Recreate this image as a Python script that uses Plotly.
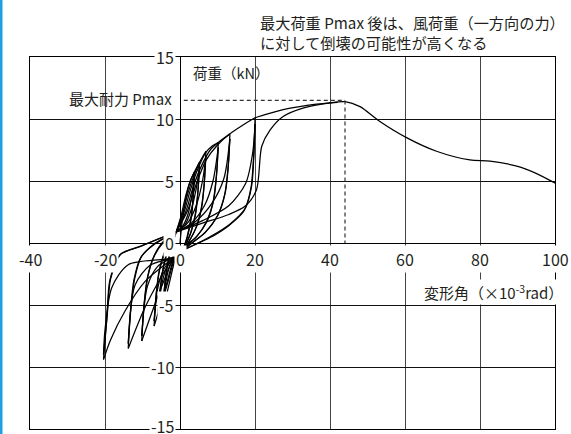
import plotly.graph_objects as go

FONT = "Noto Sans CJK JP, Noto Sans, sans-serif"
TXT = "#231f20"

X_TICKS = [-40, -20, 0, 20, 40, 60, 80, 100]
Y_TICKS = [-15, -10, -5, 0, 5, 10, 15]

# ---- hysteresis branches (x: 10^-3 rad, y: kN) ----
INITIAL_LOADING = [(0, 0), (0.6, 1.8), (1.5, 3.5), (2.6, 4.9), (3.8, 5.7)]

POS_LOAD_1 = [
    [(-1, 0.9), (0.3, 2.2), (1.6, 3.9), (2.9, 5.1), (3.8, 5.7), (5.2, 6.5)],
    [(-1, 0.9), (0.6, 2.3), (2.2, 4.1), (3.8, 5.5), (5.2, 6.5), (6.9, 7.4)],
    [(-1, 0.9), (1.0, 2.4), (2.8, 4.3), (4.8, 6.0), (6.9, 7.3), (8.5, 7.8), (10.2, 8.1)],
    [(-1, 0.9), (1.5, 2.5), (3.6, 4.6), (6.0, 6.4), (8.3, 7.6), (10.2, 8.1), (13.3, 8.8)],
    [(-1, 0.9), (2.0, 2.6), (4.5, 4.9), (7.0, 6.7), (10.0, 7.9), (13.3, 8.8), (16.7, 9.5), (20, 10.1)],
]
POS_UNLOAD_1 = [
    [(3.8, 5.7), (3.5, 3.6), (3.0, 2.0), (2.0, 0.5), (0.7, -0.6)],
    [(5.2, 6.5), (4.8, 4.2), (4.2, 2.4), (3.0, 0.9), (1.6, -0.1), (0.7, -0.6)],
    [(6.9, 7.4), (6.5, 4.9), (5.8, 2.9), (4.4, 1.3), (2.4, 0.1), (0.7, -0.6)],
    [(10.2, 8.1), (9.8, 5.7), (9.0, 3.5), (7.3, 1.8), (4.6, 0.6), (2.2, -0.1), (0.7, -0.6)],
    [(13.3, 8.8), (12.9, 6.3), (12.1, 4.1), (10.2, 2.3), (6.8, 0.9), (3.2, 0.0), (0.7, -0.6)],
    [(20, 10.1), (19.7, 7.1), (19.1, 4.6), (17.4, 2.8), (13.2, 1.5), (8.0, 0.5), (3.5, -0.2), (0.7, -0.6)],
]
POS_LOAD_2 = [
    [(-1, 0.9), (0.8, 1.4), (2.2, 2.4), (3.2, 3.9), (3.8, 5.3)],
    [(-1, 0.9), (1.4, 1.5), (3.1, 2.8), (4.4, 4.5), (5.2, 6.1)],
    [(-1, 0.9), (2.0, 1.6), (4.3, 3.0), (6.0, 5.0), (6.9, 7.0)],
    [(-1, 0.9), (3.0, 1.6), (6.5, 3.0), (8.8, 5.0), (10.2, 7.7)],
    [(-1, 0.9), (4.0, 1.7), (8.5, 3.2), (11.7, 5.2), (13.3, 8.4)],
    [(-1, 0.9), (6.0, 1.8), (13.0, 3.0), (17.5, 4.8), (19.4, 7.3), (20, 9.6)],
]
POS_UNLOAD_2 = [
    [(3.8, 5.3), (3.4, 3.3), (2.8, 1.8), (1.8, 0.4), (0.7, -0.6)],
    [(5.2, 6.1), (4.7, 3.9), (4.0, 2.2), (2.8, 0.8), (1.5, -0.1), (0.7, -0.6)],
    [(6.9, 7.0), (6.4, 4.6), (5.6, 2.7), (4.2, 1.2), (2.3, 0.1), (0.7, -0.6)],
    [(10.2, 7.7), (9.7, 5.4), (8.8, 3.3), (7.0, 1.7), (4.4, 0.5), (2.1, -0.1), (0.7, -0.6)],
    [(13.3, 8.4), (12.8, 6.0), (11.9, 3.9), (10.0, 2.2), (6.6, 0.8), (3.1, 0.0), (0.7, -0.6)],
    [(20, 9.6), (19.6, 6.8), (18.9, 4.4), (17.1, 2.6), (13.0, 1.4), (7.8, 0.4), (3.4, -0.2), (0.7, -0.6)],
]
NEG_LOAD_1 = [
    [(0.7, -0.6), (-1.2, -1.3), (-2.5, -2.8), (-3.6, -4.2), (-4.5, -5.4)],
    [(0.7, -0.6), (-1.4, -1.3), (-3.0, -2.9), (-4.5, -4.5), (-5.8, -5.9)],
    [(0.7, -0.6), (-1.6, -1.3), (-3.4, -3.1), (-5.2, -5.0), (-6.9, -6.7)],
    [(0.7, -0.6), (-1.8, -1.3), (-4.5, -3.2), (-7.5, -5.6), (-10.2, -7.9)],
    [(0.7, -0.6), (-2.0, -1.3), (-5.5, -3.0), (-9.5, -5.3), (-13.8, -8.5)],
    [(0.7, -0.6), (-2.2, -1.3), (-9.3, -3.1), (-14.7, -5.5), (-18.5, -7.8), (-20.4, -9.4)],
]
NEG_UNLOAD_1 = [
    [(-4.5, -5.4), (-4.1, -3.5), (-3.4, -1.8), (-2.4, -0.4), (-1, 0.9)],
    [(-5.8, -5.9), (-5.3, -3.8), (-4.5, -2.0), (-3.3, -0.6), (-1, 0.9)],
    [(-6.9, -6.7), (-6.4, -4.3), (-5.6, -2.3), (-4.2, -0.8), (-2.5, 0.3), (-1, 0.9)],
    [(-10.2, -7.9), (-9.6, -5.0), (-8.7, -2.8), (-7.0, -1.1), (-4.5, 0.1), (-1, 0.9)],
    [(-13.8, -8.5), (-13.2, -5.5), (-12.3, -3.0), (-10.5, -1.2), (-7.0, -0.1), (-3.5, 0.5), (-1, 0.9)],
    [(-20.4, -9.4), (-19.5, -6.0), (-18.7, -3.0), (-16.0, -0.95), (-10.7, -0.3), (-6.2, 0.27), (-1, 0.9)],
]
NEG_LOAD_2 = [
    [(0.7, -0.6), (-1.5, -1.2), (-2.8, -1.9), (-3.8, -3.2), (-4.5, -5.0)],
    [(0.7, -0.6), (-1.8, -1.2), (-3.6, -2.0), (-4.9, -3.4), (-5.8, -5.5)],
    [(0.7, -0.6), (-2.0, -1.2), (-4.3, -2.1), (-5.9, -3.6), (-6.9, -6.3)],
    [(0.7, -0.6), (-2.2, -1.2), (-6.0, -1.9), (-8.7, -3.5), (-10.2, -7.5)],
    [(0.7, -0.6), (-2.2, -1.2), (-8.0, -1.8), (-12.0, -3.4), (-13.8, -8.1)],
    [(0.7, -0.6), (-2.2, -1.2), (-13.8, -1.75), (-18.2, -3.6), (-20.0, -7.0), (-20.4, -9.0)],
]
NEG_UNLOAD_2 = [
    [(-4.5, -5.0), (-4.0, -3.2), (-3.2, -1.6), (-2.2, -0.3), (-1, 0.9)],
    [(-5.8, -5.5), (-5.2, -3.5), (-4.3, -1.8), (-3.1, -0.5), (-1, 0.9)],
    [(-6.9, -6.3), (-6.3, -4.0), (-5.4, -2.1), (-4.0, -0.7), (-2.4, 0.3), (-1, 0.9)],
    [(-10.2, -7.5), (-9.5, -4.8), (-8.5, -2.6), (-6.8, -1.0), (-4.3, 0.1), (-1, 0.9)],
    [(-13.8, -8.1), (-13.1, -5.3), (-12.1, -2.9), (-10.3, -1.1), (-6.8, -0.1), (-3.4, 0.5), (-1, 0.9)],
    [(-20.4, -9.0), (-19.4, -5.8), (-18.5, -2.9), (-15.8, -0.9), (-10.5, -0.25), (-6.0, 0.3), (-1, 0.9)],
]
FINAL_PUSH = [(-1, 0.9), (6, 1.6), (13, 2.3), (17.5, 3.0), (20.4, 4.3), (21.8, 7.8), (24, 9.1),
              (27.5, 10.2), (33, 10.9), (40, 11.3), (44, 11.4), (48, 11.0), (53.3, 9.8),
              (60.4, 8.5), (68.4, 7.4), (77.3, 6.7), (82.7, 6.6), (89.8, 6.2), (95.1, 5.6),
              (100.5, 4.75)]
ENVELOPE_EXT = [(20, 10.1), (27.5, 10.75), (36.4, 11.2), (42, 11.35)]

PMAX_X = 44
PMAX_Y = 11.5
PMAX_LINE_START = 1

# ---- assemble ----
branches = [INITIAL_LOADING]
for k in range(6):
    if k > 0:
        branches.append(POS_LOAD_1[k - 1])
    branches += [POS_UNLOAD_1[k], NEG_LOAD_1[k], NEG_UNLOAD_1[k],
                 POS_LOAD_2[k], POS_UNLOAD_2[k], NEG_LOAD_2[k], NEG_UNLOAD_2[k]]
branches += [FINAL_PUSH, ENVELOPE_EXT]

xs, ys = [], []
for b in branches:
    xs += [p[0] for p in b] + [None]
    ys += [p[1] for p in b] + [None]

fig = go.Figure()
fig.add_trace(go.Scatter(x=xs, y=ys, mode="lines",
                         line=dict(color="black", width=1.25, shape="spline", smoothing=0.8),
                         connectgaps=False, hoverinfo="skip", showlegend=False))

# dashed Pmax guide lines
fig.add_shape(type="line", x0=PMAX_LINE_START, x1=PMAX_X, y0=PMAX_Y, y1=PMAX_Y,
              line=dict(color="#333", width=1.2, dash="4px,3px"))
fig.add_shape(type="line", x0=PMAX_X, x1=PMAX_X, y0=PMAX_Y, y1=0,
              line=dict(color="#333", width=1.2, dash="4px,3px"))

# blue strip at the left edge
fig.add_shape(type="rect", xref="paper", yref="paper",
              x0=-30 / 525, x1=-27.5 / 525, y0=-5 / 372, y1=429 / 372,
              fillcolor="#1ba1e2", line=dict(width=0), layer="above")

ann = []
for v in Y_TICKS:
    ann.append(dict(x=0, y=v, xref="x", yref="y", text=str(v), showarrow=False,
                    xanchor="right", yanchor="middle", xshift=-4,
                    yshift=3 if v == -15 else 0,
                    bgcolor="white", font=dict(family=FONT, size=16, color=TXT)))
for v in X_TICKS:
    ann.append(dict(x=v, y=0, xref="x", yref="y", text=str(v), showarrow=False,
                    xanchor="center", yanchor="middle", yshift=-16,
                    bgcolor="white", font=dict(family=FONT, size=16, color=TXT)))

ann.append(dict(x=0, y=13.73, xref="x", yref="y", text="荷重（kN）", showarrow=False,
                xanchor="left", yanchor="middle", xshift=11,
                font=dict(family=FONT, size=14.5, color=TXT)))
ann.append(dict(x=0, y=11.64, xref="x", yref="y", text="最大耐力 Pmax", showarrow=False,
                xanchor="right", yanchor="middle", xshift=-6,
                font=dict(family=FONT, size=15, color=TXT)))
ann.append(dict(x=100, y=-3.93, xref="x", yref="y", text="変形角（×10<sup>-3</sup>rad）",
                showarrow=False, xanchor="right", yanchor="middle", xshift=10,
                bgcolor="white", font=dict(family=FONT, size=15, color=TXT)))
ann.append(dict(x=(258 - 30) / 525, y=(429 - 21.7) / 372, xref="paper", yref="paper",
                text="最大荷重 Pmax 後は、風荷重（一方向の力）", showarrow=False,
                xanchor="left", yanchor="middle",
                font=dict(family=FONT, size=15.2, color=TXT)))
ann.append(dict(x=(258 - 30) / 525, y=(429 - 42) / 372, xref="paper", yref="paper",
                text="に対して倒壊の可能性が高くなる", showarrow=False,
                xanchor="left", yanchor="middle",
                font=dict(family=FONT, size=15.2, color=TXT)))

fig.update_layout(
    width=571, height=434,
    margin=dict(l=30, r=16, t=57, b=5),
    paper_bgcolor="white", plot_bgcolor="white",
    showlegend=False,
    annotations=ann,
    xaxis=dict(range=[-40, 100], tickmode="array", tickvals=X_TICKS, showticklabels=False,
               ticks="", showgrid=True, gridcolor="#444", gridwidth=1,
               zeroline=True, zerolinecolor="black", zerolinewidth=1.3,
               showline=True, mirror=True, linecolor="black", linewidth=1.2, fixedrange=True),
    yaxis=dict(range=[-15, 15], tickmode="array", tickvals=Y_TICKS, showticklabels=False,
               ticks="", showgrid=True, gridcolor="#111", gridwidth=1,
               zeroline=True, zerolinecolor="black", zerolinewidth=1.3,
               showline=True, mirror=True, linecolor="black", linewidth=1.2, fixedrange=True),
)

fig.write_html("out.html", config={"displayModeBar": False},
               post_script="document.body.style.margin='0';document.body.style.overflow='hidden';")
